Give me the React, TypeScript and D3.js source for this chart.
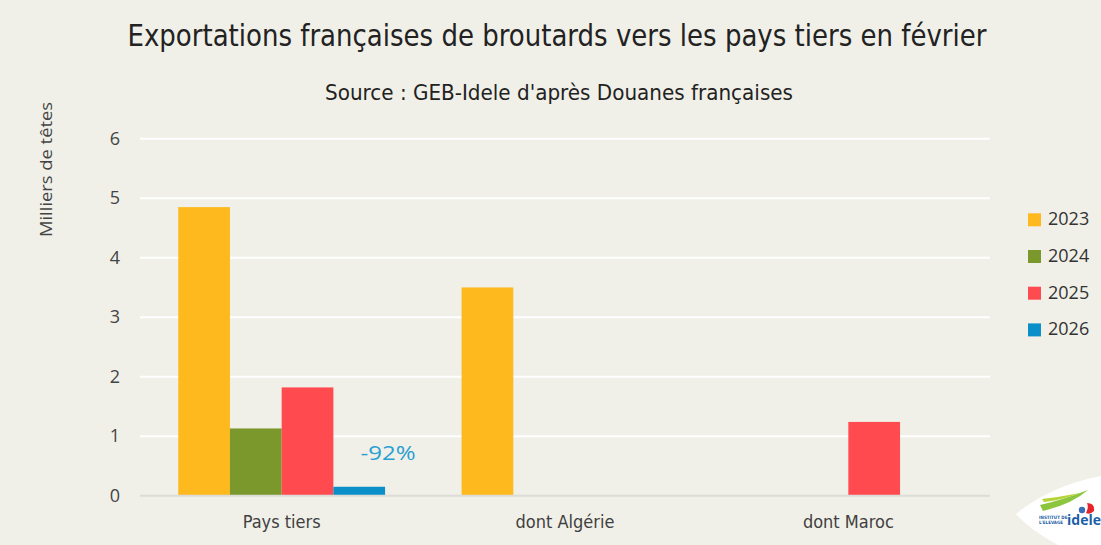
import React from "react";
import * as d3 from "d3";

const categories = ["Pays tiers", "dont Algérie", "dont Maroc"];
const years = ["2023", "2024", "2025", "2026"];
const values2023 = [4.85, 3.5, null];
const values2024 = [1.13, null, null];
const values2025 = [1.82, null, 1.24];
const values2026 = [0.15, null, null];
const yTicks = [0, 1, 2, 3, 4, 5, 6];
const colors = ["#fdb91d", "#7b982c", "#ff4b50", "#0b8fc9"];
const annotation = "-92%";

const W = 1101;
const H = 545;

export default function App() {
  const series = [values2023, values2024, values2025, values2026];
  const x0 = d3.scaleBand<string>().domain(categories).range([140, 990]).paddingInner(0.27).paddingOuter(0.135);
  const x1 = d3.scaleBand<string>().domain(years).range([0, x0.bandwidth()]);
  const y = d3.scaleLinear().domain([0, 6]).range([495.7, 138.7]);
  const font = "'Open Sans', Lato, sans-serif";
  const cond = "'Liberation Sans Narrow', 'DejaVu Sans Condensed', 'Open Sans', sans-serif";

  return (
    <svg width={W} height={H} style={{ position: "absolute", left: 0, top: 0, display: "block" }}>
      <rect x={0} y={0} width={W} height={H} fill="#f0f0e8" />
      <text x={557} y={46} textAnchor="middle" fontFamily={cond} fontSize={30} fill="#222" textLength={859} lengthAdjust="spacingAndGlyphs">
        Exportations françaises de broutards vers les pays tiers en février
      </text>
      <text x={559} y={100} textAnchor="middle" fontFamily={cond} fontSize={22} fill="#222" textLength={468} lengthAdjust="spacingAndGlyphs">
        Source : GEB-Idele d'après Douanes françaises
      </text>
      {yTicks.filter((t) => t > 0).map((t) => (
        <line key={t} x1={140} x2={990} y1={y(t)} y2={y(t)} stroke="#ffffff" strokeWidth={2} />
      ))}
      {yTicks.map((t) => (
        <text key={"l" + t} x={120} y={y(t) + 6} textAnchor="end" fontFamily={font} fontSize={18} fill="#444">
          {t}
        </text>
      ))}
      <text
        transform="translate(52,169.5) rotate(-90)"
        textAnchor="middle"
        fontFamily={font}
        fontSize={16}
        fill="#444"
        textLength={135}
        lengthAdjust="spacingAndGlyphs"
      >
        Milliers de têtes
      </text>
      {categories.map((c, ci) =>
        series.map((s, si) => {
          const v = s[ci];
          if (v == null) return null;
          return (
            <rect
              key={c + si}
              x={(x0(c) as number) + (x1(years[si]) as number)}
              y={y(v)}
              width={x1.bandwidth()}
              height={y(0) - y(v)}
              fill={colors[si]}
            />
          );
        })
      )}
      <line x1={140} x2={990} y1={y(0)} y2={y(0)} stroke="#dcdcd8" strokeWidth={2} />
      {categories.map((c) => (
        <text key={"c" + c} x={(x0(c) as number) + x0.bandwidth() / 2} y={528} textAnchor="middle" fontFamily={cond} fontSize={18} fill="#404040">
          {c}
        </text>
      ))}
      <text
        x={(x0(categories[0]) as number) + (x1(years[3]) as number) + x1.bandwidth() + 3}
        y={460}
        textAnchor="middle"
        fontFamily={font}
        fontSize={20}
        fill="#2a9fd4"
        textLength={55}
        lengthAdjust="spacingAndGlyphs"
      >
        {annotation}
      </text>
      {years.map((yr, i) => (
        <g key={"lg" + yr} transform={`translate(1028,${213.3 + i * 36.7})`}>
          <rect x={0} y={0} width={13} height={13} fill={colors[i]} />
          <text x={20} y={12} fontFamily={font} fontSize={18} fill="#333">
            {yr}
          </text>
        </g>
      ))}
      <g>
        <path d="M1016,514 Q1050,486 1101,476 L1101,545 L1058,545 Q1030,530 1016,514 Z" fill="#ffffff" />
        <path d="M1040,505 Q1062,500 1088,490 Q1072,504 1043,511 Z" fill="#8cc63f" />
        <path d="M1042,499 Q1060,497 1080,493 Q1062,500 1044,502 Z" fill="#b5d334" />
        <path d="M1087,503 Q1095,503 1094,511 Q1090,515 1086,513 Q1089,507 1087,503 Z" fill="#e5252b" />
        <circle cx={1082} cy={510} r={3.2} fill="#3a6fb6" />
        <text x={1039} y={519} fontFamily="'DejaVu Sans Condensed', sans-serif" fontSize={4.5} fill="#1d5fa8" fontWeight="bold">INSTITUT DE</text>
        <text x={1039} y={524} fontFamily="'DejaVu Sans Condensed', sans-serif" fontSize={4.5} fill="#1d5fa8" fontWeight="bold">L'ELEVAGE</text>
        <text x={1067} y={525} fontFamily="'Open Sans', sans-serif" fontSize={14} fontWeight="bold" fill="#1d5fa8">idele</text>
      </g>
    </svg>
  );
}
